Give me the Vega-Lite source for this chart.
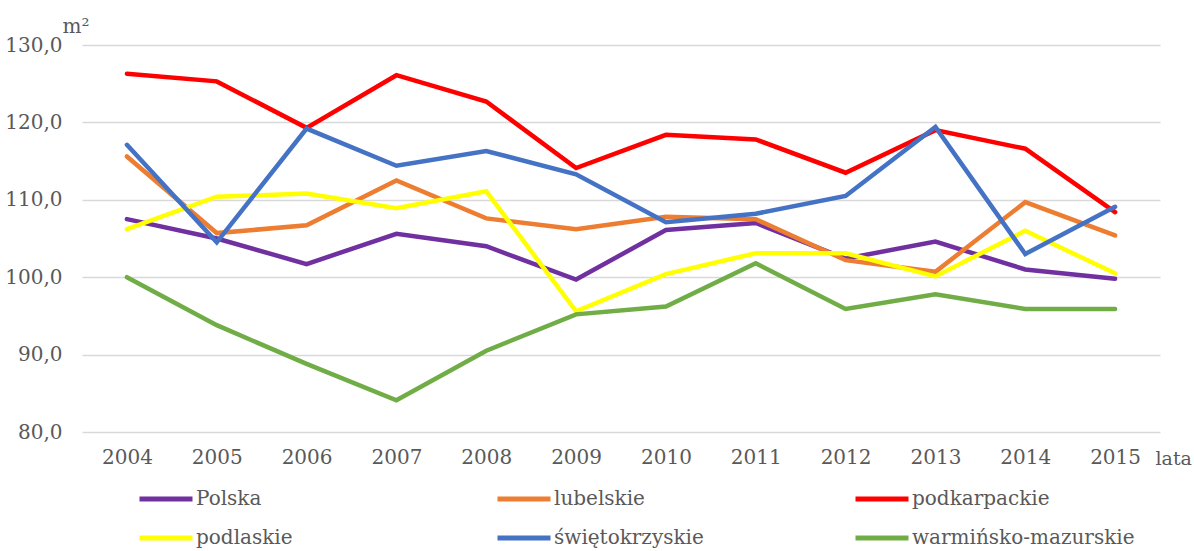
{
  "$schema": "https://vega.github.io/schema/vega-lite/v6.json",
  "width": 1078,
  "height": 387,
  "autosize": {"type": "none"},
  "padding": {"left": 82, "top": 45, "right": 34, "bottom": 119},
  "background": "white",
  "config": {
    "view": {"stroke": null},
    "font": "DejaVu Serif",
    "axis": {"labelFont": "DejaVu Serif", "titleFont": "DejaVu Serif"},
    "legend": {"labelFont": "DejaVu Serif", "titleFont": "DejaVu Serif"}
  },
  "data": {"values": [
    {"r": "Polska", "year": "2004", "v": 107.5},
    {"r": "Polska", "year": "2005", "v": 105.0},
    {"r": "Polska", "year": "2006", "v": 101.7},
    {"r": "Polska", "year": "2007", "v": 105.6},
    {"r": "Polska", "year": "2008", "v": 104.0},
    {"r": "Polska", "year": "2009", "v": 99.7},
    {"r": "Polska", "year": "2010", "v": 106.1},
    {"r": "Polska", "year": "2011", "v": 107.0},
    {"r": "Polska", "year": "2012", "v": 102.4},
    {"r": "Polska", "year": "2013", "v": 104.6},
    {"r": "Polska", "year": "2014", "v": 101.0},
    {"r": "Polska", "year": "2015", "v": 99.8},
    {"r": "lubelskie", "year": "2004", "v": 115.6},
    {"r": "lubelskie", "year": "2005", "v": 105.7},
    {"r": "lubelskie", "year": "2006", "v": 106.7},
    {"r": "lubelskie", "year": "2007", "v": 112.5},
    {"r": "lubelskie", "year": "2008", "v": 107.6},
    {"r": "lubelskie", "year": "2009", "v": 106.2},
    {"r": "lubelskie", "year": "2010", "v": 107.8},
    {"r": "lubelskie", "year": "2011", "v": 107.5},
    {"r": "lubelskie", "year": "2012", "v": 102.2},
    {"r": "lubelskie", "year": "2013", "v": 100.7},
    {"r": "lubelskie", "year": "2014", "v": 109.7},
    {"r": "lubelskie", "year": "2015", "v": 105.4},
    {"r": "podkarpackie", "year": "2004", "v": 126.3},
    {"r": "podkarpackie", "year": "2005", "v": 125.3},
    {"r": "podkarpackie", "year": "2006", "v": 119.3},
    {"r": "podkarpackie", "year": "2007", "v": 126.1},
    {"r": "podkarpackie", "year": "2008", "v": 122.7},
    {"r": "podkarpackie", "year": "2009", "v": 114.1},
    {"r": "podkarpackie", "year": "2010", "v": 118.4},
    {"r": "podkarpackie", "year": "2011", "v": 117.8},
    {"r": "podkarpackie", "year": "2012", "v": 113.5},
    {"r": "podkarpackie", "year": "2013", "v": 119.0},
    {"r": "podkarpackie", "year": "2014", "v": 116.6},
    {"r": "podkarpackie", "year": "2015", "v": 108.4},
    {"r": "podlaskie", "year": "2004", "v": 106.2},
    {"r": "podlaskie", "year": "2005", "v": 110.4},
    {"r": "podlaskie", "year": "2006", "v": 110.8},
    {"r": "podlaskie", "year": "2007", "v": 108.9},
    {"r": "podlaskie", "year": "2008", "v": 111.1},
    {"r": "podlaskie", "year": "2009", "v": 95.6},
    {"r": "podlaskie", "year": "2010", "v": 100.4},
    {"r": "podlaskie", "year": "2011", "v": 103.1},
    {"r": "podlaskie", "year": "2012", "v": 103.1},
    {"r": "podlaskie", "year": "2013", "v": 100.1},
    {"r": "podlaskie", "year": "2014", "v": 106.0},
    {"r": "podlaskie", "year": "2015", "v": 100.5},
    {"r": "świętokrzyskie", "year": "2004", "v": 117.1},
    {"r": "świętokrzyskie", "year": "2005", "v": 104.5},
    {"r": "świętokrzyskie", "year": "2006", "v": 119.2},
    {"r": "świętokrzyskie", "year": "2007", "v": 114.4},
    {"r": "świętokrzyskie", "year": "2008", "v": 116.3},
    {"r": "świętokrzyskie", "year": "2009", "v": 113.3},
    {"r": "świętokrzyskie", "year": "2010", "v": 107.1},
    {"r": "świętokrzyskie", "year": "2011", "v": 108.2},
    {"r": "świętokrzyskie", "year": "2012", "v": 110.5},
    {"r": "świętokrzyskie", "year": "2013", "v": 119.4},
    {"r": "świętokrzyskie", "year": "2014", "v": 103.0},
    {"r": "świętokrzyskie", "year": "2015", "v": 109.1},
    {"r": "warmińsko-mazurskie", "year": "2004", "v": 100.0},
    {"r": "warmińsko-mazurskie", "year": "2005", "v": 93.8},
    {"r": "warmińsko-mazurskie", "year": "2006", "v": 88.8},
    {"r": "warmińsko-mazurskie", "year": "2007", "v": 84.1},
    {"r": "warmińsko-mazurskie", "year": "2008", "v": 90.5},
    {"r": "warmińsko-mazurskie", "year": "2009", "v": 95.2},
    {"r": "warmińsko-mazurskie", "year": "2010", "v": 96.2},
    {"r": "warmińsko-mazurskie", "year": "2011", "v": 101.8},
    {"r": "warmińsko-mazurskie", "year": "2012", "v": 95.9},
    {"r": "warmińsko-mazurskie", "year": "2013", "v": 97.8},
    {"r": "warmińsko-mazurskie", "year": "2014", "v": 95.9},
    {"r": "warmińsko-mazurskie", "year": "2015", "v": 95.9}
  ]},
  "mark": {"type": "line", "strokeWidth": 4.5, "strokeCap": "round"},
  "encoding": {
    "x": {
      "field": "year", "type": "ordinal",
      "scale": {"type": "point", "padding": 0.5},
      "axis": {
        "title": "lata", "labelAngle": 0, "labelFontSize": 20, "labelColor": "#595959",
        "labelPadding": 15, "ticks": false, "domain": false, "grid": false,
        "titleFontSize": 19, "titleFontWeight": "normal", "titleColor": "#595959",
        "titleAnchor": "start", "titleAlign": "left", "titleX": 1073, "titleY": 32,
        "titleBaseline": "alphabetic"
      }
    },
    "y": {
      "field": "v", "type": "quantitative",
      "scale": {"domain": [80, 130], "nice": false, "zero": false},
      "axis": {
        "values": [80, 90, 100, 110, 120, 130],
        "labelExpr": "replace(format(datum.value,'.1f'),'.',',')",
        "labelFontSize": 20, "labelColor": "#595959", "labelPadding": 20,
        "ticks": false, "domain": false, "grid": true, "gridColor": "#d9d9d9", "gridWidth": 1.5,
        "title": "m²", "titleAngle": 0, "titleFontSize": 20, "titleFontWeight": "normal",
        "titleColor": "#595959", "titleAlign": "left", "titleX": -20, "titleY": -13,
        "titleBaseline": "alphabetic"
      }
    },
    "color": {
      "field": "r", "type": "nominal",
      "scale": {
        "domain": ["Polska", "lubelskie", "podkarpackie", "podlaskie", "świętokrzyskie", "warmińsko-mazurskie"],
        "range": ["#7030A0", "#ED7D31", "#FF0000", "#FFFF00", "#4472C4", "#70AD47"]
      },
      "legend": {
        "title": null, "orient": "none", "legendX": 55, "legendY": 425,
        "direction": "horizontal", "columns": 3, "gridAlign": "all", "columnPadding": 68,
        "rowPadding": -13, "symbolType": "stroke", "symbolSize": 2809, "symbolStrokeWidth": 5,
        "labelOffset": 1, "labelFontSize": 20, "labelColor": "#595959", "labelLimit": 400
      }
    }
  }
}
